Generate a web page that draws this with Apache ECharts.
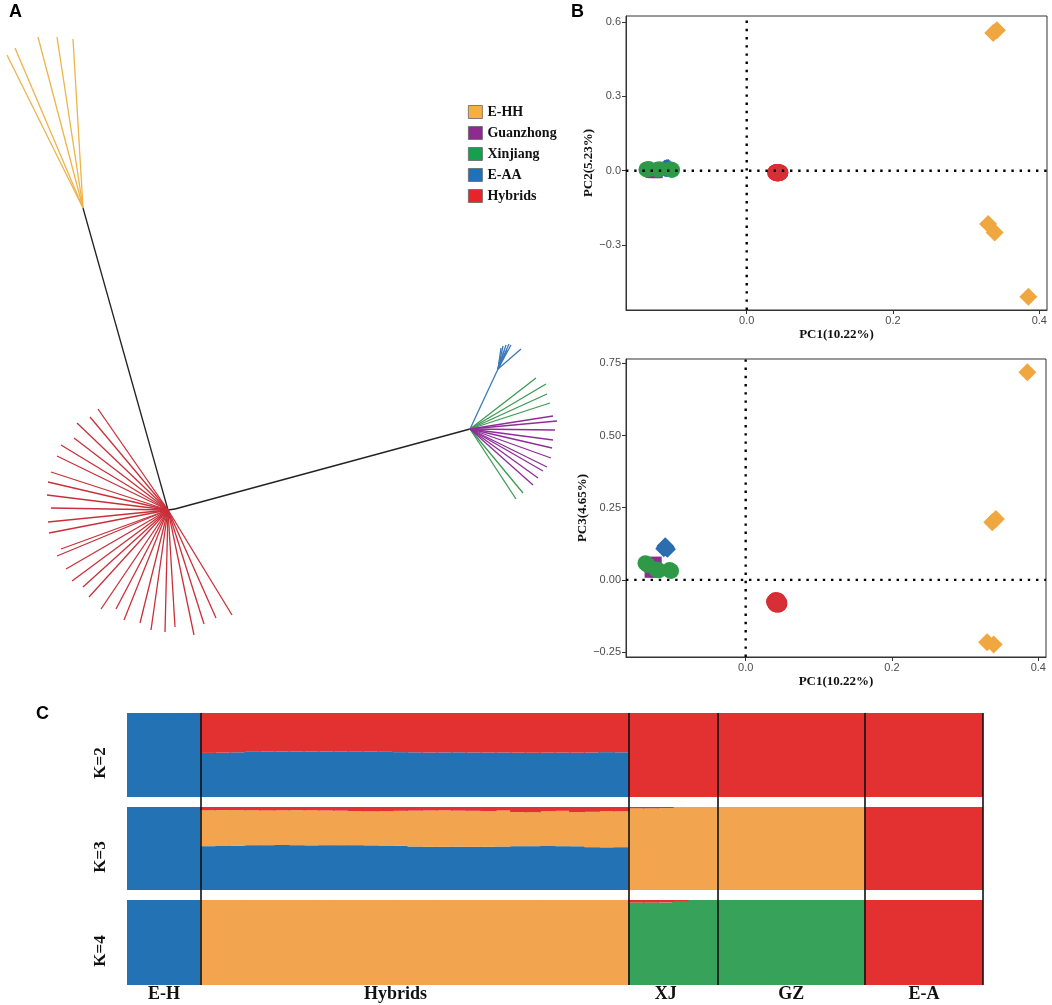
<!DOCTYPE html>
<html><head><meta charset="utf-8">
<script src="https://cdn.jsdelivr.net/npm/echarts@6/dist/echarts.min.js"></script>
<style>html,body{margin:0;padding:0;background:#fff}#c{width:1052px;height:1005px}</style>
</head><body><div id="c"></div>
<script>
// ---------- Panel A: unrooted tree (node positions in tree-layout units) ----------
const hubEHH  = [83, 208];
const hubHyb  = [168, 510];
const hubHyb2 = [175, 509];
const hubWest = [470, 429];
const hubEAA  = [498, 369];
const tipsEHH = [[7,55],[15,48],[38,37],[57,37],[73,39]];
const tipsHyb = [[98,409],[90,417],[77,423],[74,438],[61,445],[57,456],[51,472],[48,482],[47,495],[51,508],
                 [48,522],[49,533],[61,549],[57,556],[66,569],[72,581],[83,587],[89,597],[101,609],[116,609],
                 [124,620],[140,623],[151,630],[165,632],[175,627],[194,635],[204,624],[216,618],[232,615]];
const tipsEAA = [[501,348],[503,346],[506,345],[509,344],[511,345],[521,349],[504,351],[507,350]];
const tipsXJ  = [[536,378],[546,384],[547,394],[550,403],[523,493],[516,499]];
const tipsGZ  = [[553,416],[557,421],[555,430],[553,440],[552,448],[551,458],[547,467],[543,471],[538,478],[533,485]];

const legendNames  = ['E-HH','Guanzhong','Xinjiang','E-AA','Hybrids'];
const legendColors = ['#F7B03F','#8F2A90','#14A04F','#2072B8','#E8232A'];

// ---------- Panel B: PCA (PC1, PC2, PC3) ----------
const pcaEHH = [[0.337,0.555,0.200],[0.342,0.567,0.211],[0.330,-0.215,-0.216],[0.339,-0.249,-0.224],[0.385,-0.509,0.719]];
const pcaEAA = [[-0.112,0.010,0.108],[-0.110,0.012,0.112],[-0.109,0.008,0.115],[-0.108,0.011,0.110],
                [-0.111,0.009,0.113],[-0.107,0.013,0.106],[-0.110,0.010,0.118],[-0.109,0.012,0.111]];
const pcaXJ  = [[-0.137,0.005,0.058],[-0.134,0.007,0.052],[-0.122,0.004,0.036],[-0.119,0.006,0.033],[-0.104,0.005,0.034],[-0.102,0.003,0.031]];
const pcaGZ  = [[-0.129,-0.004,0.035],[-0.127,-0.006,0.045],[-0.126,-0.003,0.055],[-0.124,-0.005,0.030],[-0.128,-0.002,0.050],
                [-0.125,-0.004,0.040],[-0.123,-0.006,0.060],[-0.127,-0.003,0.038],[-0.130,-0.005,0.028],[-0.124,-0.004,0.048]];
const pcaHyb = [[0.040,-0.006,-0.072],[0.042,-0.008,-0.075],[0.044,-0.007,-0.078],[0.041,-0.010,-0.080],[0.043,-0.005,-0.074],
                [0.045,-0.009,-0.082],[0.039,-0.008,-0.076],[0.042,-0.011,-0.079],[0.044,-0.006,-0.071],[0.046,-0.008,-0.084],
                [0.040,-0.009,-0.077],[0.043,-0.007,-0.080],[0.041,-0.006,-0.073],[0.045,-0.010,-0.081],[0.042,-0.008,-0.078],
                [0.044,-0.009,-0.086],[0.039,-0.007,-0.075],[0.043,-0.011,-0.083],[0.041,-0.005,-0.070],[0.046,-0.007,-0.079],
                [0.042,-0.009,-0.076],[0.044,-0.008,-0.082],[0.040,-0.010,-0.078],[0.043,-0.006,-0.074],[0.045,-0.008,-0.080],
                [0.041,-0.009,-0.085],[0.042,-0.007,-0.077],[0.044,-0.010,-0.079],[0.043,-0.008,-0.081]];
const pc1Ticks = [0, 0.2, 0.4];
const pc2Ticks = [-0.3, 0, 0.3, 0.6];
const pc3Ticks = [-0.25, 0, 0.25, 0.5, 0.75];

// ---------- Panel C: STRUCTURE ancestry ----------
const groups = ['E-H','Hybrids','XJ','GZ','E-A'];
const groupSizes = [5, 29, 6, 10, 8];
const groupLabelPos = [2.5, 18.2, 36.5, 45, 54];
const hybK2Red  = [0.475,0.472,0.468,0.462,0.460,0.458,0.460,0.459,0.458,0.460,0.461,0.460,0.462,0.466,0.468,
                   0.470,0.469,0.468,0.470,0.471,0.470,0.472,0.473,0.472,0.471,0.472,0.470,0.466,0.468];
const hybK2Blue = [0.525,0.528,0.532,0.538,0.540,0.542,0.540,0.541,0.542,0.540,0.539,0.540,0.538,0.534,0.532,
                   0.530,0.531,0.532,0.530,0.529,0.530,0.528,0.527,0.528,0.529,0.528,0.530,0.534,0.532];
const hybK3Red  = [0.040,0.036,0.038,0.040,0.042,0.040,0.038,0.040,0.042,0.044,0.048,0.052,0.050,0.046,0.044,
                   0.042,0.040,0.044,0.046,0.048,0.042,0.060,0.064,0.050,0.046,0.062,0.058,0.050,0.052];
const hybK3Orange = [0.432,0.434,0.428,0.420,0.418,0.418,0.422,0.422,0.418,0.416,0.412,0.410,0.414,0.422,0.432,
                   0.438,0.440,0.434,0.434,0.431,0.434,0.412,0.408,0.420,0.426,0.411,0.426,0.436,0.432];
const hybK3Blue = [0.528,0.530,0.534,0.540,0.540,0.542,0.540,0.538,0.540,0.540,0.540,0.538,0.536,0.532,0.524,
                   0.520,0.520,0.522,0.520,0.521,0.524,0.528,0.528,0.530,0.528,0.527,0.516,0.514,0.516];
const xjK3Red    = [0.016,0.016,0.012,0,0,0];
const xjK3Orange = [0.984,0.984,0.988,1,1,1];
const xjK4Red    = [0.030,0.030,0.028,0.022,0,0];
const xjK4Green  = [0.970,0.970,0.972,0.978,1,1];

// ---------- build ----------
const C_BLUE='#2372B3', C_RED='#E33131', C_ORANGE='#F2A54E', C_GREEN='#37A25A';
function fill(n, v){ return new Array(n).fill(v); }
const [nEH, nHyb, nXJ, nGZ, nEA] = groupSizes;
const individuals = [];
groups.forEach((g, gi) => { for (let i = 0; i < groupSizes[gi]; i++) individuals.push(g + '_' + (i + 1)); });
const k2Blue = [].concat(fill(nEH,1), hybK2Blue, fill(nXJ,0), fill(nGZ,0), fill(nEA,0));
const k2Red  = [].concat(fill(nEH,0), hybK2Red,  fill(nXJ,1), fill(nGZ,1), fill(nEA,1));
const k3Blue = [].concat(fill(nEH,1), hybK3Blue, fill(nXJ,0), fill(nGZ,0), fill(nEA,0));
const k3Orange = [].concat(fill(nEH,0), hybK3Orange, xjK3Orange, fill(nGZ,1), fill(nEA,0));
const k3Red  = [].concat(fill(nEH,0), hybK3Red, xjK3Red, fill(nGZ,0), fill(nEA,1));
const k4Blue = [].concat(fill(nEH,1), fill(nHyb,0), fill(nXJ,0), fill(nGZ,0), fill(nEA,0));
const k4Orange = [].concat(fill(nEH,0), fill(nHyb,1), fill(nXJ,0), fill(nGZ,0), fill(nEA,0));
const k4Green = [].concat(fill(nEH,0), fill(nHyb,0), xjK4Green, fill(nGZ,1), fill(nEA,0));
const k4Red  = [].concat(fill(nEH,0), fill(nHyb,0), xjK4Red, fill(nGZ,0), fill(nEA,1));
const boundaries = [];
groupSizes.reduce((acc, n) => { boundaries.push(acc + n); return acc + n; }, 0);

function edges(hub, tips){ return tips.map(t => ({ coords: [hub, t] })); }
function treeSeries(name, data, color){
  return { type:'lines', name, coordinateSystem:'cartesian2d', xAxisIndex:0, yAxisIndex:0, silent:true,
           data, lineStyle:{ color, width:1.3, opacity:1 } };
}
const SERIF = '"Liberation Serif","Times New Roman",serif';
const SANS = '"Liberation Sans",Arial,sans-serif';
function fmt(v, d){ return v.toFixed(d).replace('-', '\u2212'); }

function pcaX(gi, min, max){
  return { type:'value', gridIndex:gi, min, max, splitLine:{show:false},
    axisLine:{show:true, onZero:false, lineStyle:{color:'#333', width:1}},
    axisTick:{show:true, length:4, customValues:pc1Ticks, lineStyle:{color:'#333'}},
    axisLabel:{customValues:pc1Ticks, formatter:v=>fmt(v,1), color:'#4d4d4d', fontSize:11, fontFamily:SANS, margin:5},
    name:'PC1(10.22%)', nameLocation:'middle', nameGap:18,
    nameTextStyle:{fontFamily:SERIF, fontWeight:'bold', fontSize:13, color:'#111'} };
}
function pcaY(gi, min, max, ticks, dec, name){
  return { type:'value', gridIndex:gi, min, max, splitLine:{show:false},
    axisLine:{show:true, onZero:false, lineStyle:{color:'#333', width:1}},
    axisTick:{show:true, length:4, customValues:ticks, lineStyle:{color:'#333'}},
    axisLabel:{customValues:ticks, formatter:v=>fmt(v,dec), color:'#4d4d4d', fontSize:11, fontFamily:SANS, margin:5},
    name, nameLocation:'middle', nameGap:30, nameRotate:90,
    nameTextStyle:{fontFamily:SERIF, fontWeight:'bold', fontSize:13, color:'#111'} };
}
function scat(ai, data, dim, symbol, size, color, z){
  return { type:'scatter', xAxisIndex:ai, yAxisIndex:ai, silent:true, symbol, symbolSize:size,
    data: data.map(p => [p[0], p[dim]]), itemStyle:{color, opacity:1}, z };
}
function refLines(ai, xr, yr){
  const ls = { color:'#000', width:2.4, type:[2.4, 5.8] };
  return [
    { type:'line', xAxisIndex:ai, yAxisIndex:ai, silent:true, showSymbol:false, symbol:'none', z:10,
      data:[[0, yr[0]],[0, yr[1]]], lineStyle:ls },
    { type:'line', xAxisIndex:ai, yAxisIndex:ai, silent:true, showSymbol:false, symbol:'none', z:10,
      data:[[xr[0], 0],[xr[1], 0]], lineStyle:ls }
  ];
}
const BAR_W = 856 / 58 + 1.2;   // slight overlap so neighbouring bars leave no seams
function bar(ai, data, color, stack){
  return { type:'bar', xAxisIndex:ai, yAxisIndex:ai, stack, silent:true, barWidth:BAR_W,
           data: data.map(v => (v === 0 ? null : v)),
           itemStyle:{color}, emphasis:{disabled:true} };
}

const X1 = [-0.165, 0.4105], Y1 = [-0.562, 0.624];
const X2 = [-0.1636, 0.4105], Y2 = [-0.267, 0.765];

const option = {
  animation:false,
  backgroundColor:'#fff',
  legend:{ orient:'vertical', left:463, top:100, itemWidth:14, itemHeight:13, itemGap:7, icon:'rect', selectedMode:false,
    data: legendNames.map((n,i)=>({ name:n, itemStyle:{color:legendColors[i], borderColor:'#666', borderWidth:0.8} })),
    textStyle:{ fontFamily:SERIF, fontWeight:'bold', fontSize:14, color:'#111' } },
  grid:[
    { left:0, top:0, width:590, height:660 },
    { left:626, top:16, width:421, height:294, show:true, borderColor:'#333', borderWidth:1 },
    { left:626, top:359, width:420, height:298, show:true, borderColor:'#333', borderWidth:1 },
    { left:127, top:713, width:856, height:84 },
    { left:127, top:807, width:856, height:83 },
    { left:127, top:900, width:856, height:85 },
    { left:127, top:713, width:856, height:272 }
  ],
  xAxis:[
    { type:'value', gridIndex:0, min:0, max:590, show:false },
    pcaX(1, X1[0], X1[1]),
    pcaX(2, X2[0], X2[1]),
    { type:'category', gridIndex:3, data:individuals, show:false },
    { type:'category', gridIndex:4, data:individuals, show:false },
    { type:'category', gridIndex:5, data:individuals, show:false },
    { type:'value', gridIndex:6, min:0, max:individuals.length, splitLine:{show:false},
      axisLine:{show:false}, axisTick:{show:false},
      axisLabel:{ customValues:groupLabelPos, formatter:v=>groups[groupLabelPos.indexOf(v)] || '',
        fontFamily:SERIF, fontWeight:'bold', fontSize:18, color:'#111', margin:0 } }
  ],
  yAxis:[
    { type:'value', gridIndex:0, min:0, max:660, inverse:true, show:false },
    pcaY(1, Y1[0], Y1[1], pc2Ticks, 1, 'PC2(5.23%)'),
    pcaY(2, Y2[0], Y2[1], pc3Ticks, 2, 'PC3(4.65%)'),
    { type:'value', gridIndex:3, min:0, max:1, show:false },
    { type:'value', gridIndex:4, min:0, max:1, show:false },
    { type:'value', gridIndex:5, min:0, max:1, show:false },
    { type:'value', gridIndex:6, min:0, max:1, show:false }
  ],
  graphic:[
    { type:'text', left:9, top:3, style:{ text:'A', font:'bold 18px '+SANS, fill:'#000' } },
    { type:'text', left:571, top:3, style:{ text:'B', font:'bold 18px '+SANS, fill:'#000' } },
    { type:'text', left:36, top:705, style:{ text:'C', font:'bold 18px '+SANS, fill:'#000' } },
    { type:'text', x:101, y:763, rotation:Math.PI/2, style:{ text:'K=2', font:'bold 17px '+SERIF, fill:'#111', align:'center', verticalAlign:'middle' } },
    { type:'text', x:101, y:857, rotation:Math.PI/2, style:{ text:'K=3', font:'bold 17px '+SERIF, fill:'#111', align:'center', verticalAlign:'middle' } },
    { type:'text', x:101, y:951, rotation:Math.PI/2, style:{ text:'K=4', font:'bold 17px '+SERIF, fill:'#111', align:'center', verticalAlign:'middle' } },
    // white masks to trim the bar overlap at the outer left/right edges of panel C
    { type:'rect', shape:{ x:118, y:705, width:9, height:285 }, style:{ fill:'#fff' }, z:50 },
    { type:'rect', shape:{ x:984, y:705, width:10, height:285 }, style:{ fill:'#fff' }, z:50 }
  ],
  series:[
    // tree
    treeSeries('backbone', [ {coords:[hubEHH, hubHyb]}, {coords:[hubHyb, hubHyb2]}, {coords:[hubHyb2, hubWest]} ], '#222'),
    treeSeries('E-HH', edges(hubEHH, tipsEHH), '#EDB449'),
    treeSeries('Hybrids', edges(hubHyb, tipsHyb), '#C9303A'),
    treeSeries('E-AA', [{coords:[hubWest, hubEAA]}].concat(edges(hubEAA, tipsEAA)), '#3B79B5'),
    treeSeries('Xinjiang', edges(hubWest, tipsXJ), '#3C9A52'),
    treeSeries('Guanzhong', edges(hubWest, tipsGZ), '#8E2D98'),
    // PCA top
    scat(1, pcaHyb, 1, 'circle', 16, '#D62F35', 2),
    scat(1, pcaEHH, 1, 'diamond', 18, '#F0A740', 2),
    scat(1, pcaEAA, 1, 'diamond', 17, '#2C6DAE', 2),
    scat(1, pcaGZ, 1, 'rect', 12, '#8F2C92', 3),
    scat(1, pcaXJ, 1, 'circle', 16, '#2E9A48', 4),
    ...refLines(1, X1, Y1),
    // PCA bottom
    scat(2, pcaHyb, 2, 'circle', 16, '#D62F35', 2),
    scat(2, pcaEHH, 2, 'diamond', 18, '#F0A740', 2),
    scat(2, pcaEAA, 2, 'diamond', 17, '#2C6DAE', 2),
    scat(2, pcaGZ, 2, 'rect', 12, '#8F2C92', 3),
    scat(2, pcaXJ, 2, 'circle', 16, '#2E9A48', 4),
    ...refLines(2, X2, Y2),
    // STRUCTURE
    bar(3, k2Blue, C_BLUE, 'k2'), bar(3, k2Red, C_RED, 'k2'),
    bar(4, k3Blue, C_BLUE, 'k3'), bar(4, k3Orange, C_ORANGE, 'k3'), bar(4, k3Red, C_RED, 'k3'),
    bar(5, k4Blue, C_BLUE, 'k4'), bar(5, k4Orange, C_ORANGE, 'k4'), bar(5, k4Green, C_GREEN, 'k4'), bar(5, k4Red, C_RED, 'k4'),
    { type:'lines', coordinateSystem:'cartesian2d', xAxisIndex:6, yAxisIndex:6, silent:true, z:10,
      data: boundaries.map(b => ({ coords:[[b,0],[b,1]] })), lineStyle:{ color:'#111', width:1.6, opacity:1 } }
  ]
};
const chart = echarts.init(document.getElementById('c'), null, { renderer:'canvas' });
chart.setOption(option);
</script></body></html>
